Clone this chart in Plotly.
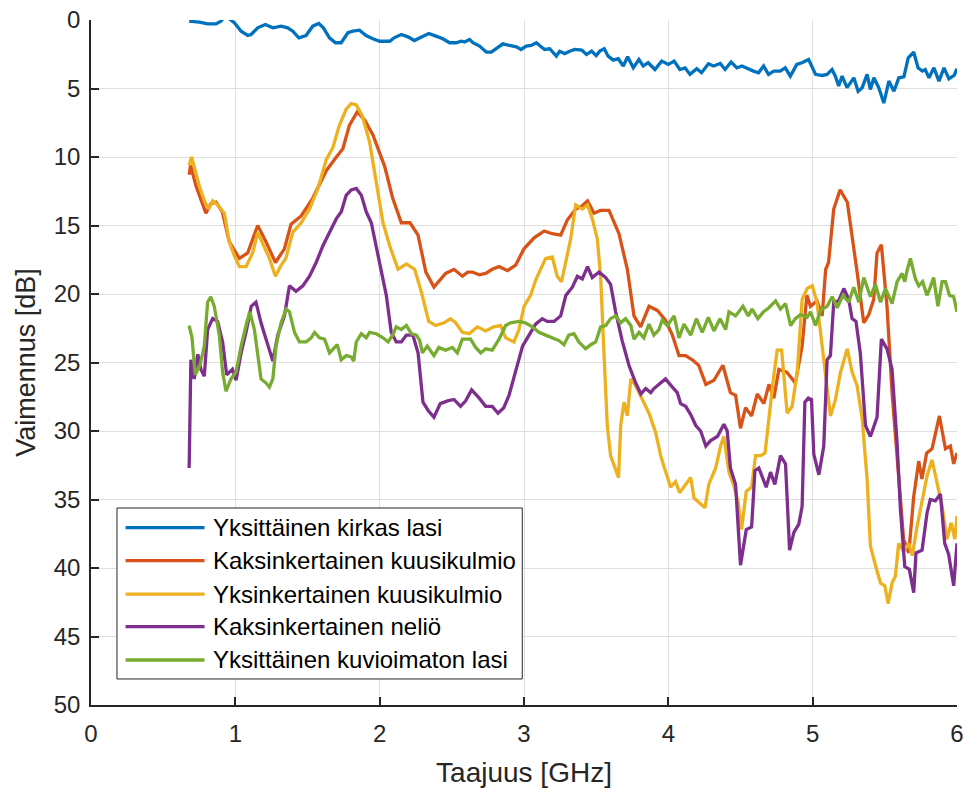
import plotly.graph_objects as go

# ---------------- data ----------------
series_names = [
    "Yksittäinen kirkas lasi",
    "Kaksinkertainen kuusikulmio",
    "Yksinkertainen kuusikulmio",
    "Kaksinkertainen neliö",
    "Yksittäinen kuvioimaton lasi",
]
series_colors = ["#0072BD", "#D95319", "#EDB120", "#7E2F8E", "#77AC30"]

x_ticks = [0, 1, 2, 3, 4, 5, 6]
y_ticks = [0, 5, 10, 15, 20, 25, 30, 35, 40, 45, 50]

kirkas_f = [0.68, 0.75, 0.808, 0.866, 0.90, 0.917, 0.932, 0.945, 0.958, 0.993, 1.04, 1.086, 1.109, 1.155,
            1.208, 1.26, 1.317, 1.363, 1.398, 1.44, 1.49, 1.536, 1.578, 1.61, 1.652, 1.694, 1.733, 1.78,
            1.814, 1.86, 1.906, 1.953, 2.0, 2.07, 2.10, 2.15, 2.196, 2.24, 2.288, 2.34, 2.39, 2.438, 2.484,
            2.53, 2.565, 2.588, 2.623, 2.646, 2.692, 2.74, 2.773, 2.808, 2.854, 2.90, 2.947, 2.98, 3.015,
            3.05, 3.086, 3.108, 3.143, 3.178, 3.224, 3.247, 3.282, 3.317, 3.35, 3.40, 3.433, 3.468, 3.50,
            3.525, 3.556, 3.583, 3.618, 3.653, 3.688, 3.718, 3.757, 3.796, 3.826, 3.86, 3.907, 3.954, 4.0,
            4.04, 4.08, 4.116, 4.15, 4.197, 4.23, 4.278, 4.313, 4.36, 4.393, 4.435, 4.475, 4.51, 4.556,
            4.59, 4.625, 4.66, 4.694, 4.73, 4.775, 4.81, 4.845, 4.89, 4.926, 4.972, 5.02, 5.065, 5.10,
            5.134, 5.157, 5.18, 5.204, 5.238, 5.285, 5.315, 5.343, 5.377, 5.40, 5.424, 5.458, 5.493, 5.528,
            5.563, 5.597, 5.632, 5.662, 5.70, 5.73, 5.76, 5.78, 5.806, 5.84, 5.875, 5.91, 5.944, 5.98, 6.0]
kirkas_db = [0.09, 0.16, 0.28, 0.28, 0.09, -0.1, -0.35, -0.3, -0.09, 0.2, 0.82, 1.13, 1.06, 0.57,
             0.33, 0.57, 0.45, 0.57, 0.82, 1.3, 1.13, 0.45, 0.26, 0.57, 1.3, 1.66, 1.66, 0.93,
             0.82, 0.74, 1.13, 1.37, 1.55, 1.55, 1.3, 1.06, 1.23, 1.5, 1.23, 0.99, 1.18, 1.37, 1.66,
             1.66, 1.55, 1.6, 1.42, 1.66, 1.9, 2.35, 2.35, 2.1, 1.74, 1.86, 1.96, 2.15, 1.9,
             1.86, 1.66, 1.86, 2.15, 2.1, 2.64, 2.28, 2.45, 2.28, 2.15, 2.2, 2.52, 2.27, 2.6,
             2.27, 2.1, 2.64, 2.93, 2.83, 3.36, 2.68, 3.49, 2.88, 3.36, 3.12, 3.61, 3.0, 3.24,
             3.0, 3.61, 3.49, 3.97, 3.56, 3.85, 3.2, 3.36, 3.17, 3.61, 3.07, 3.49, 3.36, 3.61,
             3.73, 3.85, 3.36, 3.97, 3.73, 3.73, 3.49, 4.1, 3.24, 3.12, 2.88, 3.97, 4.05, 3.97,
             3.61, 4.1, 4.82, 4.1, 4.94, 4.22, 5.2, 4.94, 3.97, 5.07, 4.22, 4.94, 6.06, 4.46,
             5.2, 4.22, 4.15, 2.76, 2.34, 3.49, 3.73, 3.61, 4.22, 3.49, 4.46, 3.49, 4.3, 4.05, 3.56]

kaks_kuusi_f = [0.68, 0.69, 0.727, 0.76, 0.796, 0.83, 0.866, 0.91, 0.958, 1.028, 1.086, 1.155, 1.213,
                1.278, 1.34, 1.386, 1.456, 1.537, 1.63, 1.70, 1.745, 1.79, 1.845, 1.896, 1.954, 2.035,
                2.09, 2.15, 2.21, 2.266, 2.32, 2.376, 2.42, 2.457, 2.515, 2.573, 2.61, 2.642, 2.69, 2.734,
                2.78, 2.827, 2.885, 2.942, 3.0, 3.07, 3.14, 3.196, 3.254, 3.30, 3.358, 3.40, 3.44, 3.485,
                3.53, 3.589, 3.658, 3.716, 3.762, 3.808, 3.866, 3.924, 3.98, 4.028, 4.074, 4.12, 4.166,
                4.21, 4.26, 4.316, 4.378, 4.43, 4.466, 4.50, 4.535, 4.577, 4.616, 4.662, 4.697, 4.731,
                4.766, 4.82, 4.88, 4.927, 4.96, 4.985, 5.03, 5.066, 5.09, 5.11, 5.146, 5.19, 5.24, 5.273,
                5.308, 5.354, 5.389, 5.423, 5.446, 5.476, 5.515, 5.55, 5.585, 5.63, 5.666, 5.70, 5.735,
                5.757, 5.79, 5.827, 5.878, 5.92, 5.954, 5.977, 6.0]
kaks_kuusi_db = [11.3, 10.6, 12.1, 13.0, 14.1, 13.4, 13.3, 14.0, 16.2, 17.4, 17.0, 15.0, 16.2,
                 17.7, 16.7, 14.9, 14.3, 13.0, 11.0, 10.0, 9.4, 7.7, 6.7, 7.3, 8.4, 10.7,
                 13.0, 14.8, 14.8, 15.7, 18.4, 19.5, 19.0, 18.5, 18.2, 18.7, 18.4, 18.4, 18.6, 18.5,
                 18.2, 18.0, 18.3, 17.9, 16.7, 15.9, 15.4, 15.6, 15.7, 14.6, 13.8, 13.6, 13.2, 14.1,
                 13.9, 13.9, 15.6, 18.2, 21.6, 22.4, 20.9, 21.2, 21.9, 23.0, 24.5, 24.5, 24.8,
                 25.2, 26.6, 26.3, 25.2, 27.2, 27.4, 29.8, 28.3, 28.9, 27.3, 28.0, 26.6, 27.6,
                 25.5, 25.7, 26.5, 23.8, 20.1, 20.9, 20.5, 21.6, 18.2, 17.7, 13.8, 12.4, 13.3, 15.7,
                 18.4, 22.1, 21.5, 20.4, 17.0, 16.4, 20.9, 27.2, 32.1, 37.9, 38.9, 34.8, 32.2,
                 33.5, 31.6, 31.3, 28.9, 31.3, 31.1, 32.4, 31.6]

yksi_kuusi_f = [0.68, 0.697, 0.72, 0.75, 0.785, 0.815, 0.843, 0.877, 0.924, 0.958, 0.993, 1.028, 1.074,
                1.12, 1.155, 1.2, 1.236, 1.278, 1.317, 1.35, 1.398, 1.456, 1.514, 1.572, 1.63, 1.676,
                1.72, 1.768, 1.803, 1.838, 1.88, 1.93, 1.977, 2.023, 2.07, 2.127, 2.185, 2.243, 2.29,
                2.34, 2.388, 2.446, 2.49, 2.526, 2.573, 2.62, 2.677, 2.734, 2.79, 2.838, 2.873, 2.93,
                2.965, 3.0, 3.046, 3.08, 3.115, 3.15, 3.196, 3.23, 3.26, 3.29, 3.323, 3.358, 3.404, 3.44,
                3.473, 3.508, 3.531, 3.554, 3.577, 3.60, 3.625, 3.655, 3.67, 3.693, 3.716, 3.74, 3.774,
                3.82, 3.866, 3.912, 3.947, 3.97, 4.016, 4.05, 4.078, 4.12, 4.155, 4.178, 4.212, 4.254,
                4.28, 4.328, 4.362, 4.385, 4.42, 4.454, 4.484, 4.507, 4.54, 4.577, 4.604, 4.64, 4.67,
                4.70, 4.73, 4.754, 4.785, 4.823, 4.858, 4.893, 4.927, 4.962, 4.997, 5.03, 5.066, 5.10,
                5.123, 5.158, 5.193, 5.24, 5.273, 5.308, 5.343, 5.377, 5.40, 5.435, 5.47, 5.50, 5.523,
                5.55, 5.573, 5.596, 5.63, 5.666, 5.69, 5.723, 5.758, 5.792, 5.827, 5.862, 5.897, 5.93,
                5.96, 5.985, 6.0]
yksi_kuusi_db = [10.6, 10.0, 10.9, 12.1, 13.2, 13.8, 13.2, 13.5, 14.1, 16.2, 17.2, 18.0, 18.0,
                 17.0, 15.5, 16.6, 17.4, 18.7, 17.9, 17.4, 15.5, 14.8, 13.8, 12.3, 10.2, 9.3,
                 7.7, 6.5, 6.1, 6.2, 7.0, 8.9, 11.8, 14.8, 16.5, 18.2, 17.8, 18.2, 19.9,
                 22.0, 22.3, 22.1, 21.8, 22.1, 22.8, 22.9, 22.4, 22.7, 22.4, 22.3, 23.2, 23.5,
                 22.6, 20.9, 20.1, 19.0, 18.2, 17.4, 17.3, 18.7, 19.1, 17.7, 16.0, 13.5, 13.8, 13.5,
                 14.5, 16.0, 18.7, 24.3, 29.6, 31.8, 32.6, 33.4, 29.6, 27.9, 28.9, 26.2, 26.7,
                 27.7, 28.7, 30.1, 31.8, 32.6, 34.1, 33.7, 34.5, 33.9, 33.4, 34.9, 35.2, 35.6,
                 33.9, 32.7, 31.1, 30.4, 33.0, 34.0, 35.2, 37.2, 34.4, 34.1, 31.8, 31.8, 31.6,
                 28.7, 26.0, 24.1, 24.1, 28.7, 28.2, 25.7, 20.4, 19.6, 19.4, 20.6, 23.8, 27.0,
                 28.9, 27.7, 25.7, 24.0, 25.7, 26.7, 29.1, 33.5, 38.4, 39.8, 41.1, 41.3, 42.6,
                 41.1, 40.6, 38.2, 38.8, 38.2, 39.1, 37.0, 35.0, 33.3, 32.1, 33.7, 35.5, 37.9,
                 36.7, 37.9, 36.2]

nelio_f = [0.68, 0.692, 0.715, 0.74, 0.762, 0.785, 0.808, 0.843, 0.877, 0.912, 0.94, 0.98, 1.005, 1.04,
           1.074, 1.11, 1.143, 1.178, 1.213, 1.26, 1.294, 1.34, 1.375, 1.42, 1.468, 1.514, 1.56, 1.606,
           1.653, 1.70, 1.734, 1.768, 1.803, 1.838, 1.873, 1.907, 1.942, 1.977, 2.01, 2.046, 2.08, 2.115,
           2.15, 2.185, 2.23, 2.266, 2.30, 2.336, 2.376, 2.42, 2.47, 2.515, 2.56, 2.596, 2.637, 2.69,
           2.734, 2.78, 2.82, 2.86, 2.896, 2.942, 2.99, 3.035, 3.08, 3.127, 3.16, 3.208, 3.254, 3.29,
           3.335, 3.37, 3.404, 3.44, 3.473, 3.52, 3.566, 3.60, 3.635, 3.68, 3.727, 3.774, 3.81, 3.843,
           3.878, 3.90, 3.935, 3.98, 4.028, 4.062, 4.085, 4.12, 4.155, 4.19, 4.224, 4.26, 4.293, 4.34,
           4.385, 4.408, 4.43, 4.466, 4.50, 4.54, 4.577, 4.60, 4.627, 4.678, 4.708, 4.738, 4.777, 4.812,
           4.84, 4.87, 4.904, 4.927, 4.946, 4.97, 4.992, 5.008, 5.043, 5.077, 5.10, 5.123, 5.146, 5.18,
           5.216, 5.25, 5.273, 5.30, 5.33, 5.366, 5.40, 5.446, 5.476, 5.515, 5.55, 5.585, 5.608, 5.638,
           5.67, 5.70, 5.716, 5.758, 5.792, 5.815, 5.85, 5.885, 5.915, 5.942, 5.977, 6.0]
nelio_db = [32.7, 24.8, 26.2, 24.4, 25.5, 26.0, 22.6, 21.8, 22.0, 23.5, 25.9, 25.5, 26.3, 24.3,
            22.8, 20.9, 20.6, 22.1, 23.3, 24.9, 23.0, 21.6, 19.4, 19.8, 19.4, 18.7, 17.7, 16.5,
            15.5, 14.5, 14.0, 12.8, 12.4, 12.3, 12.8, 14.0, 14.8, 16.5, 18.2, 20.1, 22.8, 23.5,
            23.5, 23.0, 23.0, 24.3, 27.9, 28.5, 29.0, 28.0, 27.8, 27.7, 28.2, 27.8, 27.0, 27.6,
            28.2, 28.2, 28.7, 28.3, 27.4, 25.7, 23.8, 23.0, 22.2, 21.8, 22.0, 22.0, 21.6, 20.1,
            19.5, 18.7, 18.9, 18.0, 18.8, 18.4, 18.8, 19.3, 21.3, 23.4, 25.2, 26.5, 27.3, 26.9,
            27.2, 26.9, 26.6, 26.2, 26.8, 27.2, 28.0, 28.2, 28.8, 29.6, 30.0, 31.1, 30.7, 30.4,
            29.5, 30.0, 32.7, 33.9, 39.8, 37.2, 37.0, 32.9, 32.7, 34.1, 33.0, 33.9, 31.8, 32.4,
            38.7, 37.4, 36.8, 35.5, 27.9, 27.6, 27.7, 31.7, 33.2, 31.1, 24.8, 24.5, 20.6, 20.5,
            19.6, 20.4, 21.8, 22.0, 24.3, 29.6, 30.4, 29.0, 23.3, 24.0, 25.5, 30.9, 35.7, 39.9,
            40.1, 41.8, 38.9, 38.7, 36.0, 35.0, 35.1, 34.6, 38.2, 39.0, 41.3, 38.2]

kuvioimaton_f = [0.68, 0.70, 0.722, 0.755, 0.785, 0.808, 0.83, 0.854, 0.889, 0.912, 0.935, 0.97, 1.005,
                 1.04, 1.074, 1.10, 1.132, 1.155, 1.178, 1.213, 1.236, 1.26, 1.282, 1.317, 1.352, 1.375,
                 1.41, 1.444, 1.49, 1.525, 1.549, 1.583, 1.618, 1.653, 1.676, 1.706, 1.734, 1.768, 1.803,
                 1.82, 1.838, 1.873, 1.907, 1.93, 1.977, 2.023, 2.058, 2.09, 2.115, 2.15, 2.185, 2.22,
                 2.255, 2.278, 2.296, 2.33, 2.376, 2.41, 2.457, 2.503, 2.538, 2.573, 2.63, 2.665, 2.70,
                 2.734, 2.78, 2.827, 2.873, 2.907, 2.965, 3.01, 3.058, 3.104, 3.15, 3.196, 3.242, 3.277,
                 3.31, 3.346, 3.38, 3.427, 3.462, 3.497, 3.531, 3.566, 3.60, 3.635, 3.67, 3.704, 3.74,
                 3.762, 3.797, 3.83, 3.866, 3.90, 3.935, 3.958, 3.993, 4.04, 4.074, 4.108, 4.155, 4.194,
                 4.235, 4.277, 4.316, 4.358, 4.397, 4.42, 4.466, 4.517, 4.554, 4.58, 4.62, 4.66, 4.697,
                 4.743, 4.777, 4.812, 4.847, 4.88, 4.916, 4.962, 4.985, 5.02, 5.054, 5.10, 5.135, 5.17,
                 5.21, 5.25, 5.285, 5.32, 5.354, 5.40, 5.435, 5.47, 5.504, 5.55, 5.585, 5.62, 5.638,
                 5.654, 5.677, 5.712, 5.735, 5.762, 5.792, 5.815, 5.838, 5.868, 5.897, 5.92, 5.948,
                 5.977, 6.0]
kuvioimaton_db = [22.3, 23.2, 25.9, 25.2, 23.8, 20.6, 20.2, 20.9, 23.0, 25.7, 27.1, 26.2, 25.7,
                  23.8, 22.3, 21.3, 22.6, 24.3, 26.2, 26.5, 26.8, 26.2, 23.8, 22.1, 21.1, 21.3,
                  22.8, 23.5, 23.5, 23.2, 22.8, 23.2, 23.3, 24.3, 24.0, 23.7, 24.8, 24.5, 24.6,
                  24.9, 23.5, 22.9, 23.2, 22.8, 22.9, 23.2, 23.5, 23.0, 22.4, 22.6, 22.3, 22.9,
                  23.0, 23.4, 24.3, 23.8, 24.5, 23.9, 24.1, 23.9, 24.3, 23.3, 23.3, 23.9, 24.3,
                  24.0, 24.1, 23.3, 22.3, 22.1, 22.0, 22.1, 22.4, 22.8, 23.0, 23.2, 23.4, 23.7,
                  23.0, 22.9, 23.5, 24.0, 23.7, 23.5, 22.4, 22.3, 21.8, 21.6, 22.1, 21.8, 22.3,
                  23.3, 22.8, 23.2, 22.2, 23.0, 22.6, 21.9, 22.3, 21.6, 23.2, 22.2, 23.0, 21.8,
                  22.8, 21.7, 22.7, 21.8, 22.6, 21.3, 21.6, 20.9, 21.6, 21.1, 21.8, 21.3, 21.0,
                  20.5, 21.1, 20.7, 22.3, 21.8, 21.5, 21.7, 21.3, 22.3, 21.2, 20.9, 20.2, 21.0,
                  20.1, 20.6, 19.5, 20.6, 18.8, 20.2, 19.3, 20.6, 19.6, 20.7, 19.1, 18.5, 19.1,
                  18.3, 17.4, 18.9, 19.4, 19.1, 20.1, 19.5, 18.8, 20.9, 19.1, 19.1, 20.1,
                  20.2, 21.3]

series_f = [kirkas_f, kaks_kuusi_f, yksi_kuusi_f, nelio_f, kuvioimaton_f]
series_db = [kirkas_db, kaks_kuusi_db, yksi_kuusi_db, nelio_db, kuvioimaton_db]

# ---------------- figure ----------------
FONT = "Liberation Sans, Arial, Helvetica, sans-serif"
TXT = "#262626"

fig = go.Figure()
for name, color, fx, dbv in zip(series_names, series_colors, series_f, series_db):
    fig.add_trace(go.Scatter(x=fx, y=dbv, mode="lines", name=name,
                             line=dict(color=color, width=3.3), showlegend=False))

# manual legend (MATLAB-style: long line samples inside a boxed frame)
lg_x0, lg_x1, lg_y0, lg_y1 = 0.030, 0.498, 0.038, 0.2876
row_y = [0.2588, 0.2107, 0.1620, 0.1143, 0.0657]
shapes = [dict(type="rect", xref="paper", yref="paper", x0=lg_x0, x1=lg_x1, y0=lg_y0, y1=lg_y1,
               line=dict(color=TXT, width=1), fillcolor="white", layer="above")]
annotations = []
for name, color, ry in zip(series_names, series_colors, row_y):
    shapes.append(dict(type="line", xref="paper", yref="paper", x0=0.0399, x1=0.1311, y0=ry, y1=ry,
                       line=dict(color=color, width=3.3), layer="above"))
    annotations.append(dict(xref="paper", yref="paper", x=0.1391, y=ry, text=name, showarrow=False,
                            xanchor="left", yanchor="middle", font=dict(family=FONT, size=24, color="#000000")))

fig.update_layout(
    width=964, height=790,
    margin=dict(l=91, r=7, t=20, b=85),
    paper_bgcolor="white", plot_bgcolor="white",
    font=dict(family=FONT, size=24, color=TXT),
    shapes=shapes, annotations=annotations,
    showlegend=False,
)
fig.update_xaxes(
    range=[0, 6], tickvals=x_ticks, ticktext=[str(v) for v in x_ticks],
    showgrid=True, gridcolor="#dfdfdf", gridwidth=1, zeroline=False,
    showline=True, linecolor=TXT, linewidth=1.5, automargin=False,
    ticks="inside", ticklen=8, tickwidth=1.5, tickcolor=TXT, ticklabeloverflow="allow",
    tickfont=dict(family=FONT, size=24, color=TXT), ticklabelstandoff=6,
    title=dict(text="Taajuus [GHz]", font=dict(family=FONT, size=28, color=TXT), standoff=17),
)
fig.update_yaxes(
    range=[50, 0], tickvals=y_ticks, ticktext=[str(v) for v in y_ticks],
    showgrid=True, gridcolor="#dfdfdf", gridwidth=1, zeroline=False,
    showline=True, linecolor=TXT, linewidth=1.5, automargin=False,
    ticks="inside", ticklen=8, tickwidth=1.5, tickcolor=TXT, ticklabeloverflow="allow",
    tickfont=dict(family=FONT, size=24, color=TXT), ticklabelstandoff=4,
    title=dict(text="Vaimennus [dB]", font=dict(family=FONT, size=27, color=TXT), standoff=10),
)

# remove the browser's default 8 px page margin so the figure sits at the window corner
fig.write_html("out.html", config={"displayModeBar": False},
               post_script="document.body.style.margin='0';")
